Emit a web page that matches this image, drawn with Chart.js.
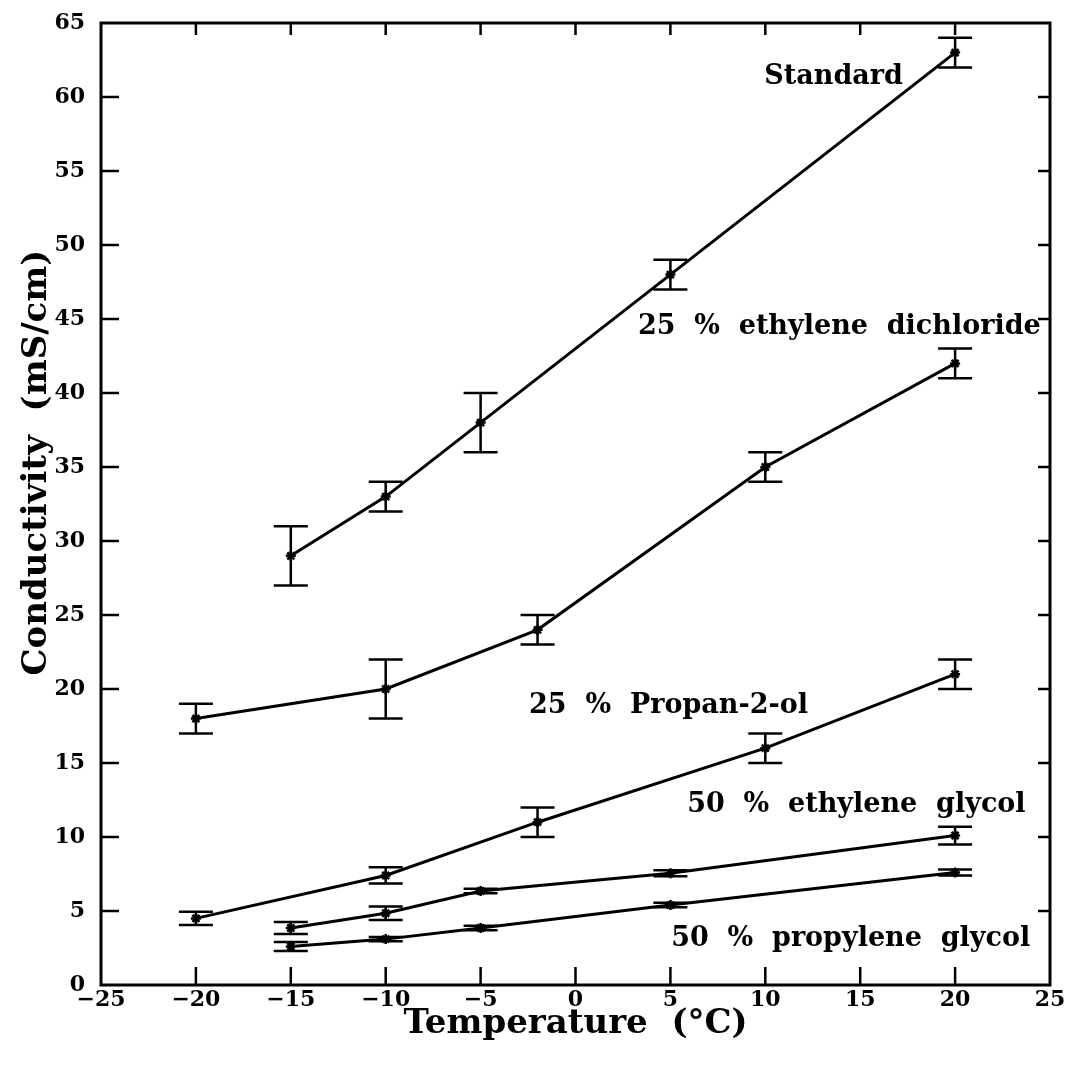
<!DOCTYPE html>
<html>
<head>
<meta charset="utf-8">
<title>Conductivity vs temperature</title>
<script src="https://cdn.jsdelivr.net/npm/chart.js@4.4.1/dist/chart.umd.min.js"></script>
<style>
  html, body { margin: 0; padding: 0; background: #fff; }
</style>
</head>
<body>
<canvas id="chart" width="1076" height="1068"></canvas>
<script>
// data
const xTicks = [-25, -20, -15, -10, -5, 0, 5, 10, 15, 20, 25];
const yTicks = [0, 5, 10, 15, 20, 25, 30, 35, 40, 45, 50, 55, 60, 65];

const stdTemp = [-15, -10, -5, 5, 20];
const stdCond = [29, 33, 38, 48, 63];
const stdErr = [2, 1, 2, 1, 1];

const edcTemp = [-20, -10, -2, 10, 20];
const edcCond = [18, 20, 24, 35, 42];
const edcErr = [1, 2, 1, 1, 1];

const iprTemp = [-20, -10, -2, 10, 20];
const iprCond = [4.5, 7.4, 11, 16, 21];
const iprErr = [0.45, 0.55, 1, 1, 1];

const egTemp = [-15, -10, -5, 5, 20];
const egCond = [3.85, 4.85, 6.35, 7.55, 10.1];
const egErr = [0.4, 0.45, 0.15, 0.2, 0.6];

const pgTemp = [-15, -10, -5, 5, 20];
const pgCond = [2.6, 3.1, 3.85, 5.4, 7.6];
const pgErr = [0.3, 0.15, 0.15, 0.15, 0.2];

// curve labels, placed in data units
const labelText = ['Standard', '25  %  ethylene  dichloride', '25  %  Propan-2-ol', '50  %  ethylene  glycol', '50  %  propylene  glycol'];
const labelX = [13.6, 13.9, 4.9, 14.8, 14.5];
const labelY = [61.35, 44.45, 18.85, 12.15, 3.1];

const FONT = '"DejaVu Serif", serif';

function series(temps, conds) {
    return temps.map((t, i) => ({ x: t, y: conds[i] }));
}

function lineSet(temps, conds) {
    return {
        data: series(temps, conds),
        borderColor: '#000',
        backgroundColor: '#000',
        borderWidth: 3,
        fill: false,
        tension: 0,
        pointStyle: 'star',
        pointRadius: 5,
        pointBorderWidth: 2.5,
        pointBorderColor: '#000'
    };
}

const allTemps = [stdTemp, edcTemp, iprTemp, egTemp, pgTemp];
const allCond = [stdCond, edcCond, iprCond, egCond, pgCond];
const allErr = [stdErr, edcErr, iprErr, egErr, pgErr];

// error bars, frame with inward ticks, curve labels
const decorations = {
    id: 'decorations',
    afterDatasetsDraw(chart) {
        const ctx = chart.ctx;
        const xs = chart.scales.x, ys = chart.scales.y;
        ctx.save();
        ctx.strokeStyle = '#000';
        ctx.lineWidth = 2.5;
        allTemps.forEach((temps, s) => {
            temps.forEach((t, i) => {
                const px = xs.getPixelForValue(t);
                const top = ys.getPixelForValue(allCond[s][i] + allErr[s][i]);
                const bot = ys.getPixelForValue(allCond[s][i] - allErr[s][i]);
                ctx.beginPath();
                ctx.moveTo(px, top); ctx.lineTo(px, bot);
                ctx.moveTo(px - 17, top); ctx.lineTo(px + 17, top);
                ctx.moveTo(px - 17, bot); ctx.lineTo(px + 17, bot);
                ctx.stroke();
            });
        });
        ctx.restore();
    },
    afterDraw(chart) {
        const ctx = chart.ctx;
        const a = chart.chartArea;
        const xs = chart.scales.x, ys = chart.scales.y;
        ctx.save();
        ctx.strokeStyle = '#000';
        ctx.lineWidth = 3;
        ctx.strokeRect(a.left, a.top, a.right - a.left, a.bottom - a.top);
        ctx.lineWidth = 2.5;
        ctx.beginPath();
        xTicks.slice(1, -1).forEach(v => {
            const px = xs.getPixelForValue(v);
            ctx.moveTo(px, a.bottom); ctx.lineTo(px, a.bottom - 18);
            ctx.moveTo(px, a.top); ctx.lineTo(px, a.top + 12);
        });
        yTicks.slice(1, -1).forEach(v => {
            const py = ys.getPixelForValue(v);
            ctx.moveTo(a.left, py); ctx.lineTo(a.left + 18, py);
            ctx.moveTo(a.right, py); ctx.lineTo(a.right - 12, py);
        });
        ctx.stroke();

        ctx.fillStyle = '#000';
        ctx.font = 'bold 27px ' + FONT;
        ctx.textAlign = 'center';
        ctx.textBaseline = 'middle';
        labelText.forEach((txt, i) => {
            ctx.fillText(txt, xs.getPixelForValue(labelX[i]), ys.getPixelForValue(labelY[i]));
        });
        ctx.restore();
    }
};

const ctx = document.getElementById('chart').getContext('2d');
const chart = new Chart(ctx, {
    type: 'line',
    data: {
        datasets: allTemps.map((t, i) => lineSet(t, allCond[i]))
    },
    options: {
        responsive: false,
        animation: false,
        devicePixelRatio: 1,
        layout: { padding: { top: 23, right: 26, left: 0, bottom: 0 } },
        plugins: {
            legend: { display: false },
            tooltip: { enabled: false }
        },
        scales: {
            x: {
                type: 'linear',
                min: -25,
                max: 25,
                afterBuildTicks: scale => { scale.ticks = xTicks.map(v => ({ value: v })); },
                afterFit: scale => {
                    scale.height = 83;
                    scale.paddingLeft = 0;
                    scale.paddingRight = 0;
                },
                ticks: {
                    autoSkip: false,
                    maxRotation: 0,
                    color: '#000',
                    padding: 2,
                    font: { family: FONT, weight: 'bold', size: 22 },
                    callback: v => String(v).replace('-', '\u2212')
                },
                grid: { display: false, drawTicks: false },
                border: { display: false },
                title: {
                    display: true,
                    text: 'Temperature  (\u00b0C)',
                    color: '#000',
                    font: { family: FONT, weight: 'bold', size: 34 },
                    padding: { top: 0, bottom: 23 }
                }
            },
            y: {
                type: 'linear',
                min: 0,
                max: 65,
                afterBuildTicks: scale => { scale.ticks = yTicks.map(v => ({ value: v })); },
                afterFit: scale => {
                    scale.width = 101;
                    scale.paddingTop = 0;
                    scale.paddingBottom = 0;
                },
                ticks: {
                    autoSkip: false,
                    color: '#000',
                    padding: 16,
                    font: { family: FONT, weight: 'bold', size: 22 }
                },
                grid: { display: false, drawTicks: false },
                border: { display: false },
                title: {
                    display: true,
                    text: '       Conductivity  (mS/cm)',
                    color: '#000',
                    font: { family: FONT, weight: 'bold', size: 34 },
                    padding: { top: 17, bottom: 0 }
                }
            }
        }
    },
    plugins: [decorations]
});
</script>
</body>
</html>
